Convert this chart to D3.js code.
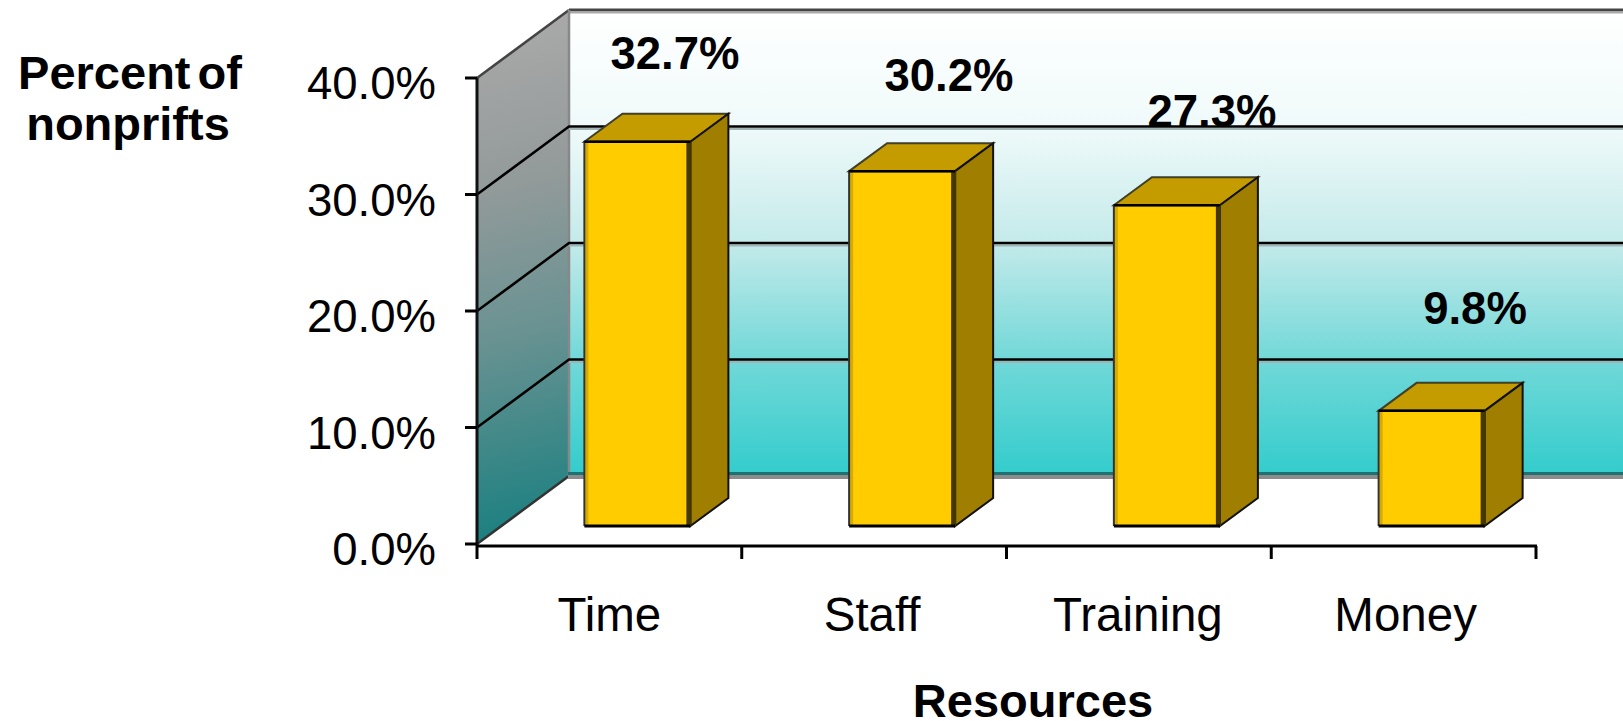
<!DOCTYPE html>
<html><head><meta charset="utf-8">
<script src="https://cdn.jsdelivr.net/npm/d3@7/dist/d3.min.js"></script>
<style>html,body{margin:0;background:#fff}svg{display:block}text{font-family:"Liberation Sans",Arial,sans-serif;fill:#000}</style>
</head><body><svg id="c" width="1623" height="721"></svg>
<script>
const categories=["Time","Staff","Training","Money"];
const values=[32.7,30.2,27.3,9.8];
const yTicks=[0,10,20,30,40];
const labels=["32.7%","30.2%","27.3%","9.8%"];
const W=1623;
const svg=d3.select("#c");
const axisLeft=477,axisRight=1536,axisY=546;
const dx=92,dy=-68;
const y=d3.scaleLinear().domain([0,40]).range([544,78]);
const x=d3.scaleBand().domain(categories).range([axisLeft,axisRight]);
const barY=d3.scaleLinear().domain([0,40]).range([526,56]);
const defs=svg.append("defs");
const g1=defs.append("linearGradient").attr("id","wall").attr("x1",0).attr("y1",0).attr("x2",0).attr("y2",1);
[[0,"#ffffff"],[0.25,"#f0fafa"],[0.5,"#c4eaea"],[0.75,"#72d8d8"],[1,"#33cccc"]].forEach(s=>g1.append("stop").attr("offset",s[0]).attr("stop-color",s[1]));
const g2=defs.append("linearGradient").attr("id","side").attr("gradientUnits","userSpaceOnUse")
  .attr("x1",470).attr("y1",40).attr("x2",580).attr("y2",520);
[[0,"#a8a8a8"],[0.3,"#939a9a"],[0.6,"#6a9292"],[1,"#1c8080"]].forEach(s=>g2.append("stop").attr("offset",s[0]).attr("stop-color",s[1]));
defs.append("clipPath").attr("id","lab").append("rect").attr("x",1080).attr("y",0).attr("width",220).attr("height",y(30)+dy);

// back wall
const wx=axisLeft+dx;
svg.append("rect").attr("x",wx).attr("y",y(40)+dy).attr("width",W-wx).attr("height",y(0)-y(40)).attr("fill","url(#wall)");
svg.append("line").attr("x1",wx).attr("x2",W).attr("y1",y(40)+dy).attr("y2",y(40)+dy).attr("stroke","#444").attr("stroke-width",3);
svg.append("line").attr("x1",wx).attr("x2",W).attr("y1",y(40)+dy+2.5).attr("y2",y(40)+dy+2.5).attr("stroke","#aaa").attr("stroke-width",2);
// side wall
svg.append("path").attr("d",d3.line()([[axisLeft,y(0)],[axisLeft,y(40)],[wx,y(40)+dy],[wx,y(0)+dy]])+"Z").attr("fill","url(#side)");
svg.append("line").attr("x1",axisLeft).attr("x2",wx).attr("y1",y(40)).attr("y2",y(40)+dy).attr("stroke","#444").attr("stroke-width",2.5);
svg.append("line").attr("x1",axisLeft).attr("x2",wx).attr("y1",y(0)).attr("y2",y(0)+dy).attr("stroke","#333").attr("stroke-width",2.5);
svg.append("line").attr("x1",wx).attr("x2",wx).attr("y1",y(40)+dy).attr("y2",y(0)+dy).attr("stroke","#888").attr("stroke-width",2.5);
// labels sit behind the gridlines and bars
svg.selectAll(".val").data(values).join("text").attr("class","val")
  .attr("x",(d,i)=>[675,949,1212,1475][i]).attr("y",(d,i)=>[69,91,127,324][i])
  .attr("text-anchor","middle").attr("font-size",45.5).attr("font-weight","bold")
  .attr("clip-path",(d,i)=>i==2?"url(#lab)":null).text((d,i)=>labels[i]);
// grid
yTicks.filter(t=>t>0&&t<40).forEach(t=>{
  svg.append("line").attr("x1",wx).attr("x2",W).attr("y1",y(t)+dy+2.5).attr("y2",y(t)+dy+2.5).attr("stroke","#a0b4b4").attr("stroke-width",2);
  svg.append("path").attr("d",d3.line()([[axisLeft,y(t)],[wx,y(t)+dy],[W,y(t)+dy]])).attr("fill","none").attr("stroke","#000").attr("stroke-width",2.5);
});
// floor edge
svg.append("rect").attr("x",wx-1).attr("y",y(0)+dy-4).attr("width",W-wx+1).attr("height",3).attr("fill","#1f7070");
svg.append("rect").attr("x",wx-1).attr("y",y(0)+dy-1).attr("width",W-wx+1).attr("height",4).attr("fill","#8c8c8c");

// bars
const bw=106,bdx=38,bdy=-28,off=8;
const bars=svg.selectAll(".bar").data(values).join("g").attr("class","bar");
bars.each(function(d,i){
  const g=d3.select(this);
  const l=x(categories[i])+off+(x.bandwidth()-bw)/2+20, r=l+bw, t=barY(d), b=barY(0);
  g.append("path").attr("d",d3.line()([[l,t],[l+bdx,t+bdy],[r+bdx,t+bdy],[r,t]])+"Z").attr("fill","#c49c00").attr("stroke","#3f3f2a").attr("stroke-width",2);
  g.append("path").attr("d",d3.line()([[r,t],[r+bdx,t+bdy],[r+bdx,b+bdy],[r,b]])+"Z").attr("fill","#a07f00").attr("stroke","#111").attr("stroke-width",2);
  g.append("rect").attr("x",l).attr("y",t).attr("width",bw).attr("height",b-t).attr("fill","#ffcc00");
  g.append("rect").attr("x",l+1).attr("y",t).attr("width",3).attr("height",b-t).attr("fill","#d6ab00");
  g.append("rect").attr("x",r-4).attr("y",t).attr("width",5).attr("height",b-t).attr("fill","#443700");
  g.append("path").attr("d",d3.line()([[l,b],[l,t],[r,t]])).attr("fill","none").attr("stroke","#333").attr("stroke-width",2);
  g.append("line").attr("x1",l).attr("x2",r).attr("y1",t).attr("y2",t).attr("stroke","#000").attr("stroke-width",2.5);
  g.append("line").attr("x1",l).attr("x2",r).attr("y1",b).attr("y2",b).attr("stroke","#000").attr("stroke-width",3);
});

// axes
svg.append("line").attr("x1",axisLeft).attr("x2",axisLeft).attr("y1",y(40)).attr("y2",axisY).attr("stroke","#111").attr("stroke-width",3);
svg.append("line").attr("x1",axisLeft-1).attr("x2",axisRight+1).attr("y1",axisY).attr("y2",axisY).attr("stroke","#000").attr("stroke-width",3);
yTicks.forEach(t=>{
  svg.append("line").attr("x1",axisLeft-12).attr("x2",axisLeft).attr("y1",y(t)).attr("y2",y(t)).attr("stroke","#000").attr("stroke-width",3);
  svg.append("text").attr("x",436).attr("y",y(t)+21).attr("text-anchor","end").attr("font-size",45.5).text(d3.format(".1f")(t)+"%");
});
const xt=categories.map(c=>x(c)).concat([axisRight]);
xt.forEach(v=>svg.append("line").attr("x1",v).attr("x2",v).attr("y1",axisY).attr("y2",559).attr("stroke","#000").attr("stroke-width",3));
svg.selectAll(".cat").data(categories).join("text").attr("class","cat")
  .attr("x",(d,i)=>x(d)+x.bandwidth()/2-[0,2,1,-2][i]).attr("y",631).attr("text-anchor","middle").attr("font-size",47.5).text(d=>d);
svg.append("text").attr("x",1033).attr("y",717).attr("text-anchor","middle").attr("font-size",47).attr("font-weight","bold").text("Resources");
svg.append("text").attr("x",130).attr("y",89).attr("text-anchor","middle").attr("font-size",47).attr("font-weight","bold").attr("word-spacing",-6).text("Percent of");
svg.append("text").attr("x",128).attr("y",140).attr("text-anchor","middle").attr("font-size",47).attr("font-weight","bold").text("nonprifts");
</script></body></html>
